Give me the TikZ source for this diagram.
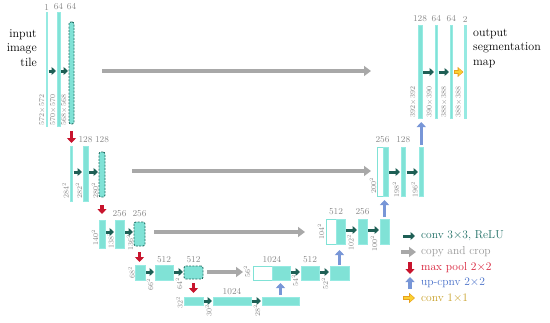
\documentclass[tikz,border=0pt]{standalone}
\usetikzlibrary{arrows.meta,calc}
\definecolor{barfill}{RGB}{128,226,214}
\definecolor{baredge}{RGB}{150,234,226}
\definecolor{convc}{RGB}{30,95,85}
\definecolor{copyc}{RGB}{168,168,168}
\definecolor{poolc}{RGB}{200,20,45}
\definecolor{upc}{RGB}{120,150,215}
\definecolor{onec}{RGB}{250,208,50}
\definecolor{oneedge}{RGB}{232,160,30}
\definecolor{labc}{RGB}{135,135,135}
\definecolor{dashc}{RGB}{35,110,100}
\definecolor{convtxt}{RGB}{30,110,100}
\definecolor{copytxt}{RGB}{150,150,150}
\definecolor{pooltxt}{RGB}{215,30,55}
\definecolor{uptxt}{RGB}{70,110,200}
\definecolor{onetxt}{RGB}{200,160,40}
\newcommand\mkbar[4][]{\node[bar,#1,minimum width=#3pt,minimum height=#4pt] (#2) at}
\begin{document}
\begin{tikzpicture}[x=1pt,y=-1pt,
  bar/.style={draw=baredge, fill=barfill, line width=0.5pt, inner sep=0pt, outer sep=0pt, anchor=north west},
  thinbar/.style={draw=baredge, fill=baredge, line width=0.3pt},
  hollow/.style={draw=barfill, fill=white, line width=0.8pt},
  crop/.style={draw=dashc, fill=barfill, dash pattern=on 2pt off 1.3pt, line width=0.9pt, rounded corners=2pt},
  chl/.style={text=labc, font=\fontsize{9}{10}\selectfont, inner sep=0pt},
  sizel/.style={text=labc, font=\fontsize{7.5}{8}\selectfont, rotate=90, inner sep=0pt},
  conv/.style={draw=convc, line width=3pt, -{Triangle[length=4.5pt,width=8pt]}, shorten <=1pt, shorten >=1pt},
  copyarr/.style={draw=copyc, line width=3.5pt, -{Triangle[length=7pt,width=10pt]}},
  pool/.style={draw=poolc, line width=3.5pt, -{Triangle[length=5pt,width=9pt]}},
  up/.style={draw=upc, line width=3.5pt, -{Triangle[length=5pt,width=9pt]}},
  oneout/.style={draw=oneedge, line width=4pt, -{Triangle[length=6pt,width=10pt]}},
  onein/.style={draw=onec, line width=2pt, -{Triangle[length=4pt,width=7pt]}},
  bigtxt/.style={font=\fontsize{12}{14.5}\selectfont, inner sep=0pt},
  legtxt/.style={font=\fontsize{11.5}{13}\selectfont, anchor=west, inner sep=0pt}
]
\useasboundingbox (0,0) rectangle (550,322);

% ---------- level 0 left
\mkbar[thinbar]{A}{1.5}{114} (46,12) {};
\mkbar{B}{3}{114} (57,12) {};
\mkbar[crop]{C}{5}{102} (69,22) {};
\node[chl] (tA) at (46.75,7) {1};
\node[chl] (tB) at (58.5,7) {64};
\node[chl] (tC) at (71.5,7) {64};
\node[sizel] (sA) at (42,110) {572$\times$572};
\node[sizel] (sB) at (53,110) {570$\times$570};
\node[sizel] (sC) at (64,110) {568$\times$568};
\node[bigtxt, align=right, anchor=east] (inp) at (37,48) {input\\image\\tile};
\draw[conv] (A.east |- 0,71) -- (B.west |- 0,71);
\draw[conv] (B.east |- 0,71) -- (C.west |- 0,71);

% ---------- level 0 right
\mkbar{O1}{4}{93} (418,25) {};
\mkbar{O2}{2.5}{93} (435,25) {};
\mkbar{O3}{2.5}{93} (450,25) {};
\mkbar[thinbar]{O4}{1.5}{93} (464.5,25) {};
\node[chl] (tO1) at (420,19) {128};
\node[chl] (tO2) at (436.25,19) {64};
\node[chl] (tO3) at (451.25,19) {64};
\node[chl] (tO4) at (465.25,19) {2};
\node[sizel] (sO1) at (413,102) {392$\times$392};
\node[sizel] (sO2) at (429.5,102) {390$\times$390};
\node[sizel] (sO3) at (444,102) {388$\times$388};
\node[sizel] (sO4) at (458.5,102) {388$\times$388};
\node[bigtxt, align=left, anchor=west] (outp) at (473,48) {output\\segmentation\\map};
\draw[conv] (O1.east |- 0,72) -- (O2.west |- 0,72);
\draw[conv] (O2.east |- 0,72) -- (O3.west |- 0,72);
\draw[oneout, shorten <=1.5pt, shorten >=1pt] (O3.east |- 0,72) -- (O4.west |- 0,72);
\draw[onein, shorten <=2.5pt, shorten >=2pt] (O3.east |- 0,72) -- (O4.west |- 0,72);

% ---------- level 1 left
\mkbar{L1a}{2.5}{55} (70,146) {};
\mkbar{L1b}{5}{55} (83,146) {};
\mkbar[crop]{L1c}{6}{45} (99,152) {};
\node[chl] (tL1b) at (85.5,140) {128};
\node[chl] (tL1c) at (102,140) {128};
\node[sizel] (sL1a) at (65.5,191) {284$^2$};
\node[sizel] (sL1b) at (79,191) {282$^2$};
\node[sizel] (sL1c) at (95,191) {280$^2$};
\draw[conv] (L1a.east |- 0,172) -- (L1b.west |- 0,172);
\draw[conv] (L1b.east |- 0,172) -- (L1c.west |- 0,172);

% ---------- level 1 right
\mkbar[hollow]{R1w}{6}{49} (377,147) {};
\mkbar{R1f}{5}{49} (383,147) {};
\mkbar{R1b}{4.5}{49} (401,147) {};
\mkbar{R1c}{4.5}{49} (419,147) {};
\node[chl] (tR1) at (382.5,140) {256};
\node[chl] (tR1b) at (403.25,140) {128};
\node[sizel] (sR1w) at (373,186) {200$^2$};
\node[sizel] (sR1b) at (396,190) {198$^2$};
\node[sizel] (sR1c) at (414.5,190) {196$^2$};
\draw[conv] (R1f.east |- 0,172) -- (R1b.west |- 0,172);
\draw[conv] (R1b.east |- 0,172) -- (R1c.west |- 0,172);

% ---------- level 2 left
\mkbar{L2a}{6}{28} (99,220) {};
\mkbar{L2b}{9}{28} (115,220) {};
\mkbar[crop]{L2c}{11}{24} (134,222) {};
\node[chl] (tL2b) at (119.5,214) {256};
\node[chl] (tL2c) at (139.5,214) {256};
\node[sizel] (sL2a) at (95,238) {140$^2$};
\node[sizel] (sL2b) at (110.5,241) {138$^2$};
\node[sizel] (sL2c) at (130,243) {136$^2$};
\draw[conv] (L2a.east |- 0,232) -- (L2b.west |- 0,232);
\draw[conv] (L2b.east |- 0,232) -- (L2c.west |- 0,232);

% ---------- level 2 right
\mkbar[hollow]{R2w}{10}{25} (326,219) {};
\mkbar{R2f}{9}{25} (336,219) {};
\mkbar{R2b}{9}{25} (358,219) {};
\mkbar{R2c}{9}{25} (380,219) {};
\node[chl] (tR2) at (336,212) {512};
\node[chl] (tR2b) at (362.5,212) {256};
\node[sizel] (sR2w) at (321,232) {104$^2$};
\node[sizel] (sR2b) at (350.5,243) {102$^2$};
\node[sizel] (sR2c) at (374,244) {100$^2$};
\draw[conv] (R2f.east |- 0,230) -- (R2b.west |- 0,230);
\draw[conv] (R2b.east |- 0,230) -- (R2c.west |- 0,230);

% ---------- level 3 left
\mkbar{L3a}{10}{15} (135,265) {};
\mkbar{L3b}{18}{15} (155,265) {};
\mkbar[crop]{L3c}{19}{13} (184,266) {};
\node[chl] (tL3b) at (164,260) {512};
\node[chl] (tL3c) at (193.5,260) {512};
\node[sizel] (sL3a) at (131.5,273) {68$^2$};
\node[sizel] (sL3b) at (150,285) {66$^2$};
\node[sizel] (sL3c) at (179,284) {64$^2$};
\draw[conv] (L3a.east |- 0,272) -- (L3b.west |- 0,272);
\draw[conv] (L3b.east |- 0,272) -- (L3c.west |- 0,272);

% ---------- level 3 right
\mkbar[hollow]{R3w}{19}{14} (253,266) {};
\mkbar{R3f}{18}{14} (272,266) {};
\mkbar{R3b}{18}{14} (301,266) {};
\mkbar{R3c}{19}{14} (330,266) {};
\node[chl] (tR3) at (272,260) {1024};
\node[chl] (tR3b) at (310,260) {512};
\node[sizel] (sR3w) at (247,272) {56$^2$};
\node[sizel] (sR3b) at (295,281) {54$^2$};
\node[sizel] (sR3c) at (325,284) {52$^2$};
\draw[conv] (R3f.east |- 0,272) -- (R3b.west |- 0,272);
\draw[conv] (R3b.east |- 0,272) -- (R3c.west |- 0,272);

% ---------- level 4
\mkbar{B1}{19}{8} (184,297) {};
\mkbar{B2}{38}{8} (213,297) {};
\mkbar{B3}{37}{8} (262,297) {};
\node[chl] (tB2) at (232,292) {1024};
\node[sizel] (sB1) at (179.5,303) {32$^2$};
\node[sizel] (sB2) at (208.5,311) {30$^2$};
\node[sizel] (sB3) at (257,311) {28$^2$};
\draw[conv] (B1.east |- 0,301) -- (B2.west |- 0,301);
\draw[conv] (B2.east |- 0,301) -- (B3.west |- 0,301);

% ---------- copy and crop
\coordinate (cp0s) at (102,71);  \coordinate (cp0e) at (371,71);
\coordinate (cp1s) at (132,171); \coordinate (cp1e) at (371,171);
\coordinate (cp2s) at (154,232); \coordinate (cp2e) at (305,232);
\coordinate (cp3s) at (207,272); \coordinate (cp3e) at (243,272);
\draw[copyarr] (cp0s) -- (cp0e);
\draw[copyarr] (cp1s) -- (cp1e);
\draw[copyarr] (cp2s) -- (cp2e);
\draw[copyarr] (cp3s) -- (cp3e);

% ---------- max pool
\draw[pool, shorten <=7pt, shorten >=3pt] (C.south) -- (C.south |- L1a.north);
\draw[pool, shorten <=8pt, shorten >=6pt] (L1c.south) -- (L1c.south |- L2a.north);
\draw[pool, shorten <=6pt, shorten >=3pt] (L2c.south) -- (L2c.south |- L3a.north);
\draw[pool, shorten <=4pt, shorten >=4pt] (L3c.south) -- (B1.north);

% ---------- up-conv
\draw[up, shorten <=2pt, shorten >=3pt] (B3.north) -- (B3.north |- R3f.south);
\draw[up, shorten <=1pt, shorten >=6pt] (R3c.north) -- (R3c.north |- R2f.south);
\draw[up, shorten <=2pt, shorten >=4pt] (R2c.north) -- (R2c.north |- R1f.south);
\draw[up, shorten <=2pt, shorten >=4pt] (R1c.north) -- (R1c.north |- O1.south);

% ---------- legend
\coordinate (g1s) at (403,236); \coordinate (g1e) at (415,236);
\coordinate (g2s) at (401,252); \coordinate (g2e) at (416,252);
\coordinate (g3s) at (410,262); \coordinate (g3e) at (410,274);
\coordinate (g4s) at (410,289); \coordinate (g4e) at (410,277);
\coordinate (g5s) at (403,298); \coordinate (g5e) at (415,298);
\draw[conv, shorten <=0pt, shorten >=0pt] (g1s) -- (g1e);
\draw[copyarr] (g2s) -- (g2e);
\draw[pool] (g3s) -- (g3e);
\draw[up] (g4s) -- (g4e);
\draw[oneout] (g5s) -- (g5e);
\draw[onein, shorten <=1pt, shorten >=1pt] (g5s) -- (g5e);
\node[legtxt, text=convtxt] (l1) at (421,236) {conv 3$\times$3, ReLU};
\node[legtxt, text=copytxt] (l2) at (421,252) {copy and crop};
\node[legtxt, text=pooltxt] (l3) at (421,268) {max pool 2$\times$2};
\node[legtxt, text=uptxt] (l4) at (421,283) {up-cpnv 2$\times$2};
\node[legtxt, text=onetxt] (l5) at (421,298) {conv 1$\times$1};
\end{tikzpicture}
\end{document}
